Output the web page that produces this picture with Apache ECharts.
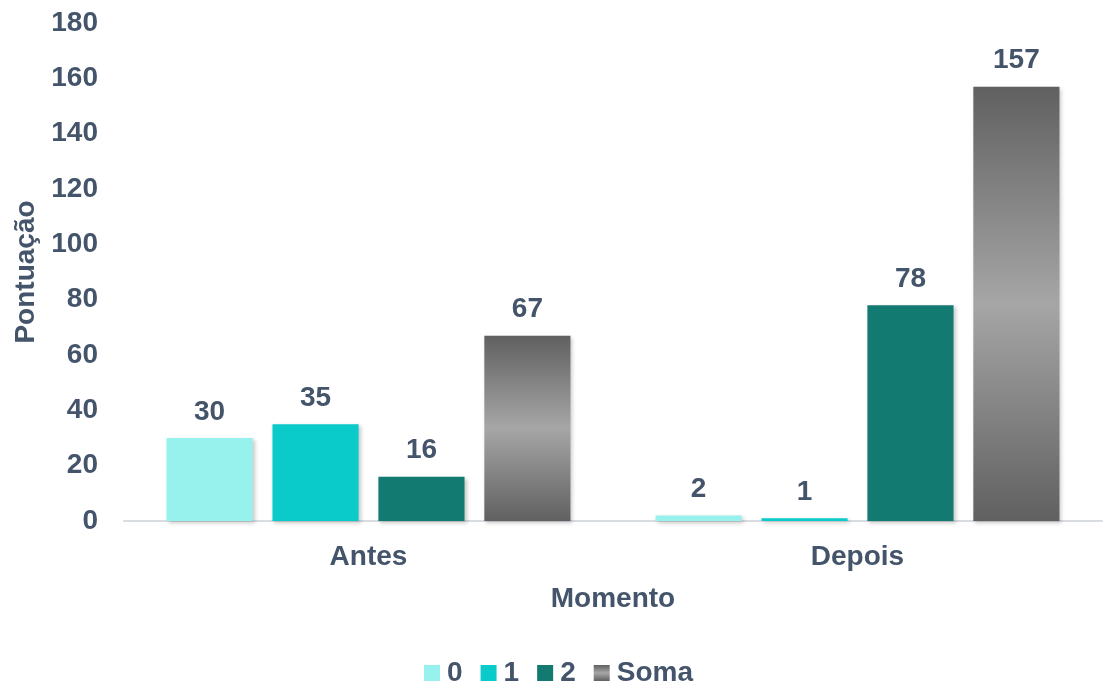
<!DOCTYPE html>
<html>
<head>
<meta charset="utf-8">
<script src="https://cdn.jsdelivr.net/npm/echarts@6/dist/echarts.min.js"></script>
<style>
  html, body { margin: 0; padding: 0; background: #fff; }
  #chart { width: 1104px; height: 687px; }
</style>
</head>
<body>
<div id="chart"></div>
<script>
// categorias e séries
const categories = ["Antes", "Depois"];
const seriesNames = ["0", "1", "2", "Soma"];
const values0 = [30, 2];
const values1 = [35, 1];
const values2 = [16, 78];
const valuesSoma = [67, 157];

const textColor = "#44546A";
const font = "Liberation Sans, Arial, sans-serif";
const fontSize = 28;

const barColors = [
  "#97F1EC",
  "#0ACBC9",
  "#127A71",
  {
    type: "linear", x: 0, y: 0, x2: 0, y2: 1,
    colorStops: [
      { offset: 0, color: "#606060" },
      { offset: 0.5, color: "#A6A6A6" },
      { offset: 1, color: "#606060" },
    ],
  },
];

const allValues = [values0, values1, values2, valuesSoma];
let seriesData = [];
for (var i = 0; i < seriesNames.length; i++) {
  seriesData.push({
    name: seriesNames[i],
    type: "bar",
    barGap: "23%",
    barCategoryGap: "17.4%",
    itemStyle: {
      color: barColors[i],
      shadowBlur: 4,
      shadowColor: "rgba(0,0,0,0.22)",
      shadowOffsetX: 2,
      shadowOffsetY: 2,
    },
    label: {
      show: true,
      position: "top",
      distance: 12,
      color: textColor,
      fontFamily: font,
      fontWeight: "bold",
      fontSize: fontSize,
    },
    data: allValues[i],
  });
}

let myChart = echarts.init(document.getElementById("chart"));
myChart.setOption({
  animation: false,
  textStyle: { fontFamily: font },
  grid: {
    left: 124,
    right: 2,
    top: 23,
    bottom: 166,
    containLabel: false,
  },
  legend: {
    data: seriesNames,
    top: 654,
    left: 419,
    itemWidth: 16,
    itemHeight: 16,
    itemGap: 18,
    icon: "rect",
    textStyle: {
      color: textColor,
      fontFamily: font,
      fontWeight: "bold",
      fontSize: fontSize,
      padding: [0, 0, 0, 2],
    },
  },
  xAxis: {
    type: "category",
    data: categories,
    name: "Momento",
    nameLocation: "middle",
    nameGap: 64,
    nameTextStyle: {
      color: textColor,
      fontFamily: font,
      fontWeight: "bold",
      fontSize: fontSize,
    },
    axisLine: { lineStyle: { color: "#D9DDE2", width: 2 } },
    axisTick: { show: false },
    axisLabel: {
      color: textColor,
      fontFamily: font,
      fontWeight: "bold",
      fontSize: fontSize,
      margin: 22,
    },
  },
  yAxis: {
    type: "value",
    min: 0,
    max: 180,
    interval: 20,
    name: "Pontuação",
    nameLocation: "middle",
    nameGap: 84,
    nameTextStyle: {
      color: textColor,
      fontFamily: font,
      fontWeight: "bold",
      fontSize: fontSize,
    },
    axisLine: { show: false },
    axisTick: { show: false },
    splitLine: { show: false },
    axisLabel: {
      color: textColor,
      fontFamily: font,
      fontWeight: "bold",
      fontSize: fontSize,
      margin: 26,
    },
  },
  series: seriesData,
});
window.addEventListener("resize", function () {
  myChart.resize();
});
</script>
</body>
</html>
